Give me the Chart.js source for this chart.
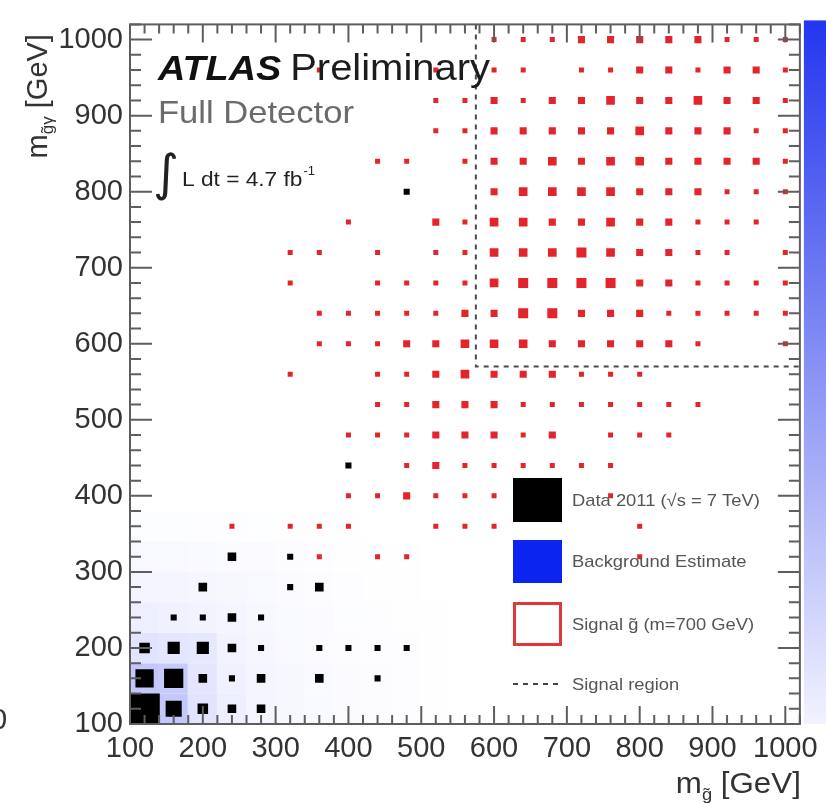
<!DOCTYPE html>
<html>
<head>
<meta charset="utf-8">
<script src="https://cdn.jsdelivr.net/npm/chart.js@4.4.1/dist/chart.umd.min.js"></script>
<style>
  html, body { margin: 0; padding: 0; background: #fff; }
  #wrap { position: relative; width: 826px; height: 803px; overflow: hidden; }
</style>
</head>
<body>
<div id="wrap"><canvas id="chart" width="826" height="803"></canvas></div>
<script>
// 40 GeV bins from 100 to 1020 GeV on both axes
const binWidth = 40;
const axisMin = 100;
const axisMax = 1020;
const majorStep = 100;
const minorStep = 20;
const tickValues = [100, 200, 300, 400, 500, 600, 700, 800, 900, 1000];

// data 2011: bin centres and event counts
const dataX = [120, 160, 200, 240, 280,
               120, 160, 200, 240, 280, 360, 440,
               120, 160, 200, 240, 280, 360, 400, 440, 480,
               160, 200, 240, 280,
               200, 320, 360,
               240, 320,
               400,
               480];
const dataY = [120, 120, 120, 120, 120,
               160, 160, 160, 160, 160, 160, 160,
               200, 200, 200, 200, 200, 200, 200, 200, 200,
               240, 240, 240, 240,
               280, 280, 280,
               320, 320,
               440,
               800];
const dataCounts = [25, 7, 3, 2, 2,
                    9, 10, 2, 1, 2, 2, 1,
                    3, 4, 4, 2, 1, 1, 1, 1, 1,
                    1, 1, 2, 1,
                    2, 1, 2,
                    2, 1,
                    1,
                    1];

// signal gluino (m = 700 GeV): relative weight per bin, one array per m_gγ row
const sigCols = [240, 280, 320, 360, 400, 440, 480, 520, 560, 600,
                 640, 680, 720, 760, 800, 840, 880, 920, 960, 1000];
const sig1000 = [0,0,0,0,0,0,0,0,0,1, 1,1,2,2,2,2,2,1,1,1];
const sig960  = [0,0,0,1,0,0,0,1,0,1, 1,0,1,1,2,2,1,2,2,1];
const sig920  = [0,0,0,0,0,0,0,1,1,2, 1,2,2,3,2,2,3,2,2,1];
const sig880  = [0,0,0,0,0,0,0,1,1,2, 2,2,2,2,3,2,2,2,1,1];
const sig840  = [0,0,0,0,0,1,1,0,1,2, 2,3,2,3,3,2,2,2,2,1];
const sig800  = [0,0,0,0,0,0,0,0,0,2, 3,3,3,3,2,2,2,1,1,1];
const sig760  = [0,0,0,0,1,0,0,2,1,3, 3,2,2,3,2,2,1,1,1,0];
const sig720  = [0,0,1,1,0,1,0,1,1,3, 3,3,4,3,2,2,1,1,0,1];
const sig680  = [0,0,1,0,0,1,1,1,1,3, 4,4,4,4,2,2,1,1,1,1];
const sig640  = [0,0,0,1,1,1,1,1,2,2, 4,4,2,2,2,1,1,1,1,1];
const sig600  = [0,0,0,1,1,1,2,2,3,3, 3,2,2,2,2,2,1,0,0,1];
const sig560  = [0,0,1,0,0,1,1,2,3,2, 2,2,1,1,1,0,0,0,0,0];
const sig520  = [0,0,0,0,0,1,1,2,2,2, 1,1,1,1,1,1,1,0,0,0];
const sig480  = [0,0,0,0,1,1,1,2,2,2, 1,2,0,1,1,1,0,0,0,0];
const sig440  = [0,0,0,0,0,0,1,2,1,1, 1,1,1,1,0,0,0,0,0,0];
const sig400  = [0,0,0,0,1,1,2,1,1,1, 0,0,0,1,0,0,0,0,0,0];
const sig360  = [1,0,1,1,1,0,0,1,1,1, 0,0,0,0,1,0,0,0,0,0];
const sig320  = [0,0,0,1,0,1,1,0,0,0, 0,0,0,0,1,0,0,0,0,0];
const sigRowY = [1000, 960, 920, 880, 840, 800, 760, 720, 680, 640, 600, 560, 520, 480, 440, 400, 360, 320];
const sigRows = [sig1000, sig960, sig920, sig880, sig840, sig800, sig760, sig720, sig680,
                 sig640, sig600, sig560, sig520, sig480, sig440, sig400, sig360, sig320];

// background estimate (fraction of colour-scale maximum)
const bkgCols   = [120, 160, 200, 240, 280, 320, 360, 400, 440, 480, 520];
const bkgRow120 = [0.30, 0.27, 0.13, 0.08, 0.05, 0.035, 0.025, 0.02, 0.015, 0.01, 0.005];
const bkgRow160 = [0.27, 0.25, 0.12, 0.07, 0.05, 0.035, 0.025, 0.02, 0.015, 0.01, 0.005];
const bkgRow200 = [0.13, 0.12, 0.11, 0.06, 0.04, 0.03, 0.02, 0.015, 0.01, 0.008, 0.004];
const bkgRow240 = [0.08, 0.07, 0.06, 0.05, 0.035, 0.025, 0.018, 0.012, 0.008, 0.006, 0.003];
const bkgRow280 = [0.05, 0.05, 0.04, 0.035, 0.03, 0.02, 0.015, 0.01, 0.006, 0.004, 0.002];
const bkgRow320 = [0.03, 0.03, 0.025, 0.02, 0.018, 0.014, 0.01, 0.006, 0.004, 0.003, 0.002];
const bkgRow360 = [0.012, 0.012, 0.01, 0.008, 0.007, 0.006, 0.004, 0.003, 0.002, 0.002, 0.001];
const bkgRowY = [120, 160, 200, 240, 280, 320, 360];
const bkgRows = [bkgRow120, bkgRow160, bkgRow200, bkgRow240, bkgRow280, bkgRow320, bkgRow360];

// signal region: m_g > 575 GeV and m_gγ > 570 GeV
const signalCutX = 575;
const signalCutY = 570;

const legendLabels = ['Data 2011 (\u221As = 7 TeV)', 'Background Estimate',
                      'Signal g\u0303 (m=700 GeV)', 'Signal region'];

const FONT = "'Liberation Sans', Arial, Helvetica, sans-serif";
const STRETCH = 1.08;

const dataPoints = dataX.map((x, i) => ({ x, y: dataY[i], n: dataCounts[i] }));
const dataMax = Math.max(...dataCounts);

const signalPoints = [];
sigRowY.forEach((yv, r) => {
  sigRows[r].forEach((w, c) => {
    if (w > 0) signalPoints.push({ x: sigCols[c], y: yv, w });
  });
});

const bkgPoints = [];
bkgRowY.forEach((yv, r) => {
  bkgRows[r].forEach((v, c) => bkgPoints.push({ x: bkgCols[c], y: yv, v }));
});

const regionLine = [
  { x: signalCutX, y: axisMax },
  { x: signalCutX, y: signalCutY },
  { x: axisMax, y: signalCutY }
];

function binPx(chart) {
  const ys = chart.scales.y;
  return Math.abs(ys.getPixelForValue(axisMin) - ys.getPixelForValue(axisMin + binWidth));
}

// 'rect' point style draws a square of side radius * sqrt(2)
function sideToRadius(side) {
  return side / Math.SQRT2;
}

function bkgColour(v) {
  const t = Math.min(1, Math.max(0, v));
  const lo = [255, 255, 255];
  const hi = [32, 48, 240];
  const c = lo.map((l, i) => Math.round(l + (hi[i] - l) * t));
  return `rgb(${c[0]},${c[1]},${c[2]})`;
}

function drawStretched(ctx, text, x, y, font, colour) {
  ctx.save();
  ctx.translate(x, y);
  ctx.scale(STRETCH, 1);
  ctx.font = font;
  ctx.fillStyle = colour;
  ctx.textBaseline = 'alphabetic';
  ctx.textAlign = 'left';
  ctx.fillText(text, 0, 0);
  const w = ctx.measureText(text).width * STRETCH;
  ctx.restore();
  return w;
}

function measureStretched(ctx, text, font) {
  ctx.save();
  ctx.font = font;
  const w = ctx.measureText(text).width * STRETCH;
  ctx.restore();
  return w;
}

const frameTicks = {
  id: 'frameTicks',
  afterDatasetsDraw(chart) {
    const { ctx, chartArea: a, scales: { x, y } } = chart;
    ctx.save();
    ctx.strokeStyle = '#5e5e5e';
    ctx.lineWidth = 2;
    ctx.beginPath();
    for (let v = axisMin; v <= axisMax; v += minorStep) {
      const major = v % majorStep === 0;
      const px = x.getPixelForValue(v);
      const lx = major ? 18 : 9;
      ctx.moveTo(px, a.bottom); ctx.lineTo(px, a.bottom - lx);
      ctx.moveTo(px, a.top); ctx.lineTo(px, a.top + lx);
      const py = y.getPixelForValue(v);
      const ly = major ? 22 : 11;
      ctx.moveTo(a.left, py); ctx.lineTo(a.left + ly, py);
      ctx.moveTo(a.right, py); ctx.lineTo(a.right - ly, py);
    }
    ctx.stroke();
    ctx.strokeRect(a.left, a.top, a.right - a.left, a.bottom - a.top);
    ctx.restore();
  }
};

const annotations = {
  id: 'annotations',
  afterDraw(chart) {
    const { ctx, chartArea: a } = chart;
    ctx.save();

    // colour scale on the right
    const grad = ctx.createLinearGradient(0, a.top - 4, 0, a.bottom);
    grad.addColorStop(0, '#2436ee');
    grad.addColorStop(0.45, '#7f89f3');
    grad.addColorStop(1, '#f2f3fe');
    ctx.fillStyle = grad;
    ctx.fillRect(a.right + 4, a.top - 4, 30, a.bottom - a.top + 4);

    // labels
    const w1 = drawStretched(ctx, 'ATLAS', 158, 80, `italic bold 35px ${FONT}`, '#111');
    drawStretched(ctx, 'Preliminary', 158 + w1 + 9, 80, `37px ${FONT}`, '#1c1c1c');
    drawStretched(ctx, 'Full Detector', 158, 123, `32px ${FONT}`, '#6b6b6b');

    ctx.fillStyle = '#222';
    ctx.font = `50px 'DejaVu Sans', sans-serif`;
    ctx.fillText('\u222B', 153, 190);
    const wl = drawStretched(ctx, 'L dt = 4.7 fb', 182, 186, `21px ${FONT}`, '#222');
    drawStretched(ctx, '-1', 182 + wl + 1, 175, `12px ${FONT}`, '#222');

    // x-axis title, right aligned with the frame
    const fBig = `29px ${FONT}`;
    const fSub = `17px ${FONT}`;
    const wm = measureStretched(ctx, 'm', fBig);
    const ws = measureStretched(ctx, 'g\u0303', fSub);
    const wg = measureStretched(ctx, ' [GeV]', fBig);
    let xt = a.right + 1 - (wm + ws + wg);
    xt += drawStretched(ctx, 'm', xt, 793, fBig, '#333');
    xt += drawStretched(ctx, 'g\u0303', xt, 800, fSub, '#333');
    drawStretched(ctx, ' [GeV]', xt, 793, fBig, '#333');

    // y-axis title, rotated, ending at the top of the frame
    ctx.save();
    ctx.translate(47, a.top + 134);
    ctx.rotate(-Math.PI / 2);
    ctx.fillStyle = '#333';
    ctx.textAlign = 'left';
    ctx.font = fBig;
    ctx.fillText('m', 0, 0);
    let yt = ctx.measureText('m').width;
    ctx.font = fSub;
    ctx.fillText('g\u0303\u03B3', yt, 6);
    yt += ctx.measureText('g\u0303\u03B3').width;
    ctx.font = fBig;
    ctx.fillText(' [GeV]', yt, 0);
    ctx.restore();

    // stray label at the left edge
    ctx.fillStyle = '#333';
    ctx.font = fBig;
    ctx.fillText('0', -9, 729);

    // legend
    const lx = 513, lw = 49, tx = 572;
    const fLeg = `17px ${FONT}`;
    ctx.fillStyle = '#000';
    ctx.fillRect(lx, 478, lw, 44);
    ctx.fillStyle = '#0b24f0';
    ctx.fillRect(lx, 540, lw, 43);
    ctx.strokeStyle = '#e0383a';
    ctx.lineWidth = 3;
    ctx.strokeRect(lx + 1.5, 603.5, lw - 3, 41);
    ctx.strokeStyle = '#444';
    ctx.lineWidth = 2;
    ctx.setLineDash([5, 5]);
    ctx.beginPath();
    ctx.moveTo(lx, 684);
    ctx.lineTo(lx + lw, 684);
    ctx.stroke();
    ctx.setLineDash([]);
    [500, 561, 624, 684].forEach((cy, i) => {
      drawStretched(ctx, legendLabels[i], tx, cy + 6, fLeg, '#555');
    });

    ctx.restore();
  }
};

new Chart(document.getElementById('chart').getContext('2d'), {
  type: 'scatter',
  data: {
    datasets: [
      {
        label: 'Signal region',
        data: regionLine,
        showLine: true,
        order: 0,
        borderColor: '#4a4a4a',
        borderWidth: 2,
        borderDash: [5, 5],
        pointRadius: 0,
        fill: false
      },
      {
        label: 'Data 2011',
        data: dataPoints,
        order: 1,
        pointStyle: 'rect',
        pointBackgroundColor: '#000',
        pointBorderWidth: 0,
        pointRadius: ctx => sideToRadius(binPx(ctx.chart) * Math.sqrt(ctx.raw.n / dataMax))
      },
      {
        label: 'Signal',
        data: signalPoints,
        order: 2,
        pointStyle: 'rect',
        pointBackgroundColor: '#e3242b',
        pointBorderWidth: 0,
        pointRadius: ctx => sideToRadius(5 * Math.sqrt(ctx.raw.w))
      },
      {
        label: 'Background Estimate',
        data: bkgPoints,
        order: 3,
        pointStyle: 'rect',
        pointBackgroundColor: ctx => bkgColour(ctx.raw.v),
        pointBorderWidth: 0,
        pointRadius: ctx => sideToRadius(binPx(ctx.chart))
      }
    ]
  },
  options: {
    responsive: false,
    animation: false,
    events: [],
    layout: { padding: { top: 23, right: 20, left: 0, bottom: 0 } },
    plugins: {
      legend: { display: false },
      tooltip: { enabled: false }
    },
    scales: {
      x: {
        type: 'linear',
        min: axisMin,
        max: axisMax,
        afterFit: s => { s.height = 79; },
        afterBuildTicks: s => { s.ticks = tickValues.map(v => ({ value: v })); },
        grid: { display: false, drawTicks: false },
        border: { display: false },
        ticks: {
          autoSkip: false,
          maxRotation: 0,
          padding: 8,
          color: '#333',
          font: { family: FONT, size: 29 },
          callback: v => String(v)
        }
      },
      y: {
        type: 'linear',
        min: axisMin,
        max: axisMax,
        afterFit: s => { s.width = 130; },
        afterBuildTicks: s => { s.ticks = tickValues.map(v => ({ value: v })); },
        grid: { display: false, drawTicks: false },
        border: { display: false },
        ticks: {
          autoSkip: false,
          padding: 7,
          color: '#333',
          font: { family: FONT, size: 29 },
          callback: v => String(v)
        }
      }
    }
  },
  plugins: [frameTicks, annotations]
});
</script>
</body>
</html>
